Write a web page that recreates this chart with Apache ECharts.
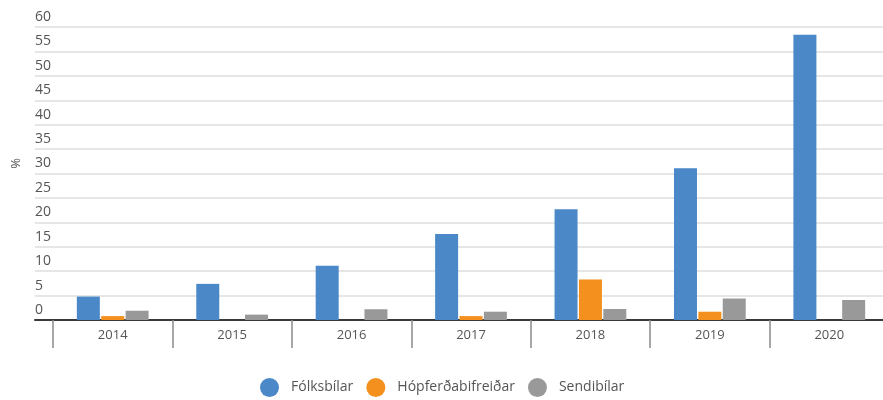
<!DOCTYPE html>
<html>
<head>
<meta charset="utf-8">
<script src="https://cdn.jsdelivr.net/npm/echarts@6/dist/echarts.min.js"></script>
<style>html,body{margin:0;padding:0;background:#fff}#c{width:883px;height:400px}</style>
</head>
<body>
<div id="c"></div>
<script>
const years = ['2014','2015','2016','2017','2018','2019','2020'];
const seriesNames = ['Fólksbílar','Hópferðabifreiðar','Sendibílar'];
const folksbilar = [4.8, 7.4, 11.1, 17.6, 22.7, 31.1, 58.4];
const hopferdabifreidar = [0.8, 0, 0, 0.8, 8.3, 1.7, 0];
const sendibilar = [1.9, 1.1, 2.2, 1.7, 2.25, 4.4, 4.1];
const yTicks = { min: 0, max: 60, interval: 5 };
const colors = ['#4a88c8', '#f3901e', '#999999'];

const font = 'Open Sans';
const chart = echarts.init(document.getElementById('c'), null, { renderer: 'canvas' });
const values = [folksbilar, hopferdabifreidar, sendibilar];
chart.setOption({
  animation: false,
  color: colors,
  textStyle: { fontFamily: font },
  grid: [
    { left: 35, right: 0, top: 27, bottom: 80, outerBoundsMode: 'none' },
    { left: 53, width: 836, top: 27, bottom: 80, outerBoundsMode: 'none' }
  ],
  xAxis: [
    { gridIndex: 0, type: 'value', min: 0, max: 1, show: true,
      axisLine: { show: true, onZero: false, lineStyle: { color: '#3a3a3a', width: 2 } },
      axisTick: { show: false }, axisLabel: { show: false }, splitLine: { show: false } },
    { gridIndex: 1, type: 'category', data: years,
      axisLine: { show: false },
      axisTick: { show: true, length: 28, lineStyle: { color: '#8a8a8a', width: 1.5 } },
      axisLabel: { color: '#555', fontSize: 13, margin: 9, fontFamily: font } }
  ],
  yAxis: [
    { gridIndex: 0, type: 'value', min: yTicks.min, max: yTicks.max, interval: yTicks.interval,
      name: '%', nameLocation: 'middle', nameRotate: 90, nameGap: 12,
      nameTextStyle: { color: '#555', fontSize: 13, fontFamily: font, padding: [0, 0, 0, 20] },
      axisLine: { show: false }, axisTick: { show: false },
      axisLabel: { inside: true, margin: 0, verticalAlign: 'bottom', padding: [0, 0, 3, 0],
                   color: '#555', fontSize: 14, fontFamily: font } ,
      splitLine: { show: true, lineStyle: { color: '#dedede', width: 1.5 } } },
    { gridIndex: 1, type: 'value', min: yTicks.min, max: yTicks.max, show: false,
      splitLine: { show: false } }
  ],
  legend: {
    top: 373, left: 255, icon: 'circle', itemWidth: 19, itemHeight: 19, itemGap: 13,
    textStyle: { color: '#555', fontSize: 14, fontFamily: font, padding: [0, 0, 0, 7] },
    data: seriesNames
  },
  series: seriesNames.map((n, i) => ({
    name: n, type: 'bar', xAxisIndex: 1, yAxisIndex: 1,
    data: values[i], barWidth: 23, barGap: '6%'
  }))
});
</script>
</body>
</html>
